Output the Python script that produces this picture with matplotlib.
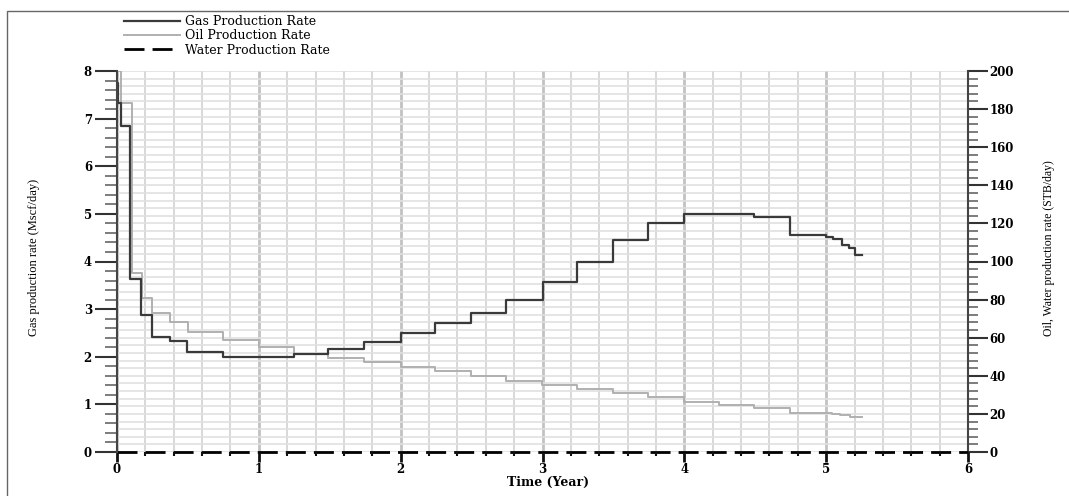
import matplotlib
matplotlib.use('Agg')
import matplotlib.pyplot as plt
from matplotlib.patches import Rectangle
from matplotlib.ticker import MultipleLocator
import numpy as np

# gas production rate (Mscf/day), step values starting at each time (year)
gas_t = [0, 0.01, 0.025, 0.095, 0.17, 0.245, 0.375, 0.495, 0.745, 1.245, 1.49, 1.745,
         2.0, 2.245, 2.495, 2.745, 3.0, 3.245, 3.495, 3.745, 3.995, 4.49, 4.745,
         5.0, 5.05, 5.11, 5.16, 5.2, 5.25]
gas_q = [7.75, 7.33, 6.84, 3.63, 2.88, 2.42, 2.34, 2.1, 1.99, 2.06, 2.16, 2.32,
         2.49, 2.7, 2.91, 3.19, 3.57, 4.0, 4.45, 4.81, 4.99, 4.93, 4.55,
         4.52, 4.48, 4.35, 4.28, 4.14, 4.14]

# oil production rate (STB/day)
oil_t = [0, 0.026, 0.105, 0.175, 0.25, 0.375, 0.5, 0.75, 1.0, 1.25, 1.49, 1.745,
         2.0, 2.245, 2.495, 2.745, 2.995, 3.245, 3.495, 3.745, 3.995, 4.245, 4.49,
         4.745, 5.04, 5.1, 5.17, 5.25]
oil_q = [200, 183, 94, 81, 73, 68.5, 63, 59, 55, 51.5, 49.6, 47.4,
         44.8, 42.5, 39.9, 37.4, 35.2, 33, 30.8, 28.7, 26.5, 24.7, 23,
         20.5, 19.8, 19.2, 18.5, 18.5]

# water production rate (STB/day)
water_t = [0, 5.25, 6]
water_q = [0, 0, 0]

fig = plt.figure(figsize=(10.69, 4.96), dpi=100)
ax = fig.add_axes([117/1069, 44/496, 851/1069, 381/496])
ax2 = ax.twinx()
ax.set_zorder(ax2.get_zorder() + 1)
ax.patch.set_visible(False)

ser = 'DejaVu Serif'
lab = 'Liberation Serif'

# lower axes: grid, oil, water
ax2.xaxis.set_visible(True)
ax2.tick_params(axis='x', which='both', length=0, labelbottom=False, labeltop=False)
ax2.grid(axis='x', which='major', color='#c2c2c2', lw=2)
ax2.grid(axis='x', which='minor', color='#d2d2d2', lw=1.2)
ax2.grid(axis='y', which='both', color='#e0e0e0', lw=1.2)
l_oil, = ax2.step(oil_t, oil_q, where='post', color='#b0b0b0', lw=1.4, label='Oil Production Rate')
l_wat, = ax2.plot(water_t, water_q, color='black', lw=2, dashes=(7.2, 2.9),
                  label='Water Production Rate', clip_on=False, zorder=5)

# upper axes: gas
l_gas, = ax.step(gas_t, gas_q, where='post', color='#3a3a3a', lw=1.6, label='Gas Production Rate')

ax.set_xlim(0, 6)
ax.set_ylim(0, 8)
ax2.set_ylim(0, 200)
ax.xaxis.set_major_locator(MultipleLocator(1))
ax.xaxis.set_minor_locator(MultipleLocator(0.2))
ax.yaxis.set_major_locator(MultipleLocator(1))
ax.yaxis.set_minor_locator(MultipleLocator(0.2))
ax2.yaxis.set_major_locator(MultipleLocator(20))
ax2.yaxis.set_minor_locator(MultipleLocator(4))

for s in ['top', 'right', 'bottom']:
    ax.spines[s].set_visible(False)
for s in ['top', 'left', 'bottom']:
    ax2.spines[s].set_visible(False)
ax.spines['left'].set_color('#444444')
ax.spines['left'].set_linewidth(1.5)
ax2.spines['right'].set_color('#444444')
ax2.spines['right'].set_linewidth(1.5)

ax.tick_params(axis='y', which='major', length=16, width=1.5, color='#333333', pad=2)
ax.tick_params(axis='y', which='minor', length=8.5, width=1.2, color='#666666')
ax2.tick_params(axis='y', which='major', length=14.5, width=1.5, color='#333333', pad=1)
ax2.tick_params(axis='y', which='minor', length=7, width=1.2, color='#666666')
ax.tick_params(axis='x', which='major', length=7, width=2, color='#111111', pad=1)
ax.tick_params(axis='x', which='minor', length=3, width=1.5, color='#111111')

for lbl in ax.get_xticklabels() + ax.get_yticklabels() + ax2.get_yticklabels():
    lbl.set_fontfamily(ser)
    lbl.set_fontsize(8.5)
    lbl.set_fontweight('bold')

ax.set_xlabel('Time (Year)', family=ser, fontsize=9, fontweight='bold')
ax.xaxis.set_label_coords(0.506, -0.064)
ax.set_ylabel('Gas production rate (Mscf/day)', family=lab, fontsize=9)
ax.yaxis.set_label_coords(-0.09, 0.51)
ax2.set_ylabel('Oil, Water production rate (STB/day)', family=lab, fontsize=8.5)
ax2.yaxis.set_label_coords(1.088, 0.535)

fig.legend([l_gas, l_oil, l_wat],
           ['Gas Production Rate', 'Oil Production Rate', 'Water Production Rate'],
           loc='upper left', bbox_to_anchor=(124/1069, 1 - 15/496), frameon=False,
           prop={'family': ser, 'size': 9}, handlelength=4.5, handletextpad=0.4,
           labelspacing=0.1, borderpad=0, borderaxespad=0)

fig.patches.append(Rectangle((7/1069, -0.5), 2, 1.5 - 11/496, transform=fig.transFigure,
                             fill=False, ec='#666666', lw=1))

plt.savefig('out.png', dpi=100)
